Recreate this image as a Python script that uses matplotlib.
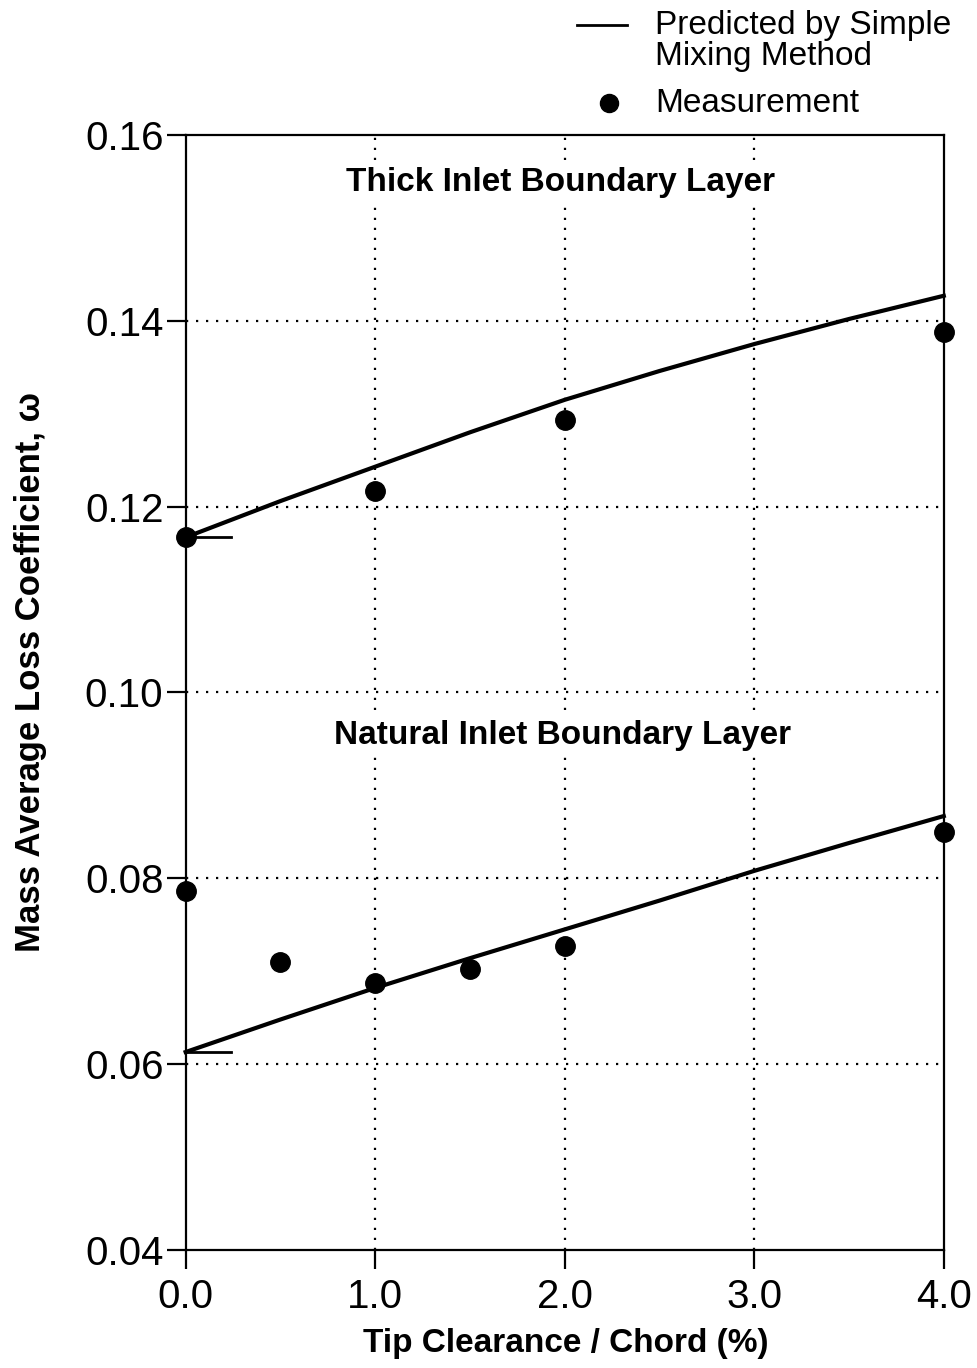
import matplotlib
matplotlib.use("Agg")
import matplotlib.pyplot as plt
from matplotlib.lines import Line2D

plt.rcParams['font.family'] = ['Liberation Sans', 'DejaVu Sans']

# Data
clearance_pred = [0.0, 0.5, 1.0, 1.5, 2.0, 2.5, 3.0, 3.5, 4.0]
thick_pred = [0.1167, 0.1206, 0.1243, 0.1280, 0.1315, 0.1346, 0.1375, 0.1402, 0.1427]
natural_pred = [0.0613, 0.0648, 0.0682, 0.0714, 0.0745, 0.0776, 0.0808, 0.0838, 0.0867]

thick_meas_x = [0.0, 1.0, 2.0, 4.0]
thick_meas_y = [0.1167, 0.1217, 0.1293, 0.1388]
natural_meas_x = [0.0, 0.5, 1.0, 1.5, 2.0, 4.0]
natural_meas_y = [0.0786, 0.0710, 0.0687, 0.0702, 0.0727, 0.0850]

# zero-clearance reference marks
ref_x = [0.0, 0.24]
thick_ref_y = [0.1167, 0.1167]
natural_ref_y = [0.0613, 0.0613]

xticks = [0.0, 1.0, 2.0, 3.0, 4.0]
xtick_labels = ["0.0", "1.0", "2.0", "3.0", "4.0"]
yticks = [0.04, 0.06, 0.08, 0.10, 0.12, 0.14, 0.16]
ytick_labels = ["0.04", "0.06", "0.08", "0.10", "0.12", "0.14", "0.16"]

fig = plt.figure(figsize=(9.77, 13.68), dpi=100)
ax = fig.add_axes([0.190, 0.0863, 0.776, 0.8150])

ax.set_xlim(0, 4)
ax.set_ylim(0.04, 0.16)

# grid
for gx in [1.0, 2.0, 3.0]:
    ax.axvline(gx, color='black', lw=1.6, linestyle=(0, (1, 3.5)), zorder=1)
for gy in [0.06, 0.08, 0.10, 0.12, 0.14]:
    ax.axhline(gy, color='black', lw=1.6, linestyle=(0, (1, 3.5)), zorder=1)

lw = 3.0
ax.plot(clearance_pred, thick_pred, color='black', lw=lw, zorder=3, clip_on=False)
ax.plot(clearance_pred, natural_pred, color='black', lw=lw, zorder=3, clip_on=False)
ax.plot(ref_x, thick_ref_y, color='black', lw=2.0, zorder=3, clip_on=False)
ax.plot(ref_x, natural_ref_y, color='black', lw=2.0, zorder=3, clip_on=False)
ax.plot(thick_meas_x, thick_meas_y, 'o', color='black', ms=14, zorder=4, clip_on=False)
ax.plot(natural_meas_x, natural_meas_y, 'o', color='black', ms=14, zorder=4, clip_on=False)

bbox = dict(facecolor='white', edgecolor='none', pad=2)
ax.text(1.98, 0.1549, "Thick Inlet Boundary Layer", ha='center', va='center',
        fontsize=24, fontweight='bold', bbox=bbox, zorder=5)
ax.text(1.99, 0.0954, "Natural Inlet Boundary Layer", ha='center', va='center',
        fontsize=24, fontweight='bold', bbox=bbox, zorder=5)

ax.set_xticks(xticks)
ax.set_xticklabels(xtick_labels)
ax.set_yticks(yticks)
ax.set_yticklabels(ytick_labels)
ax.tick_params(direction='out', length=14, width=1.6, labelsize=29, pad=6)
ax.tick_params(axis='y', pad=2)
for s in ax.spines.values():
    s.set_linewidth(1.6)

ax.set_xlabel("Tip Clearance / Chord (%)", fontsize=24, fontweight='bold')
ax.set_ylabel("Mass Average Loss Coefficient, ω", fontsize=25, fontweight='bold')
ax.xaxis.set_label_coords(0.501, -0.070)
ax.yaxis.set_label_coords(-0.183, 0.518)

# legend (manual, figure coords)
W, H = 977, 1368
def fx(px): return px / W
def fy(py): return 1 - py / H
fig.add_artist(Line2D([fx(577), fx(627)], [fy(25), fy(25)], color='black', lw=2.0))
fig.text(fx(655), fy(10), "Predicted by Simple\nMixing Method", fontsize=24,
         ha='left', va='top', linespacing=1.0)
fig.add_artist(Line2D([fx(609)], [fy(103)], marker='o', color='black', ms=13, lw=0))
fig.text(fx(655), fy(103), "Measurement", fontsize=24, ha='left', va='center')

fig.savefig("out.png", dpi=100)
